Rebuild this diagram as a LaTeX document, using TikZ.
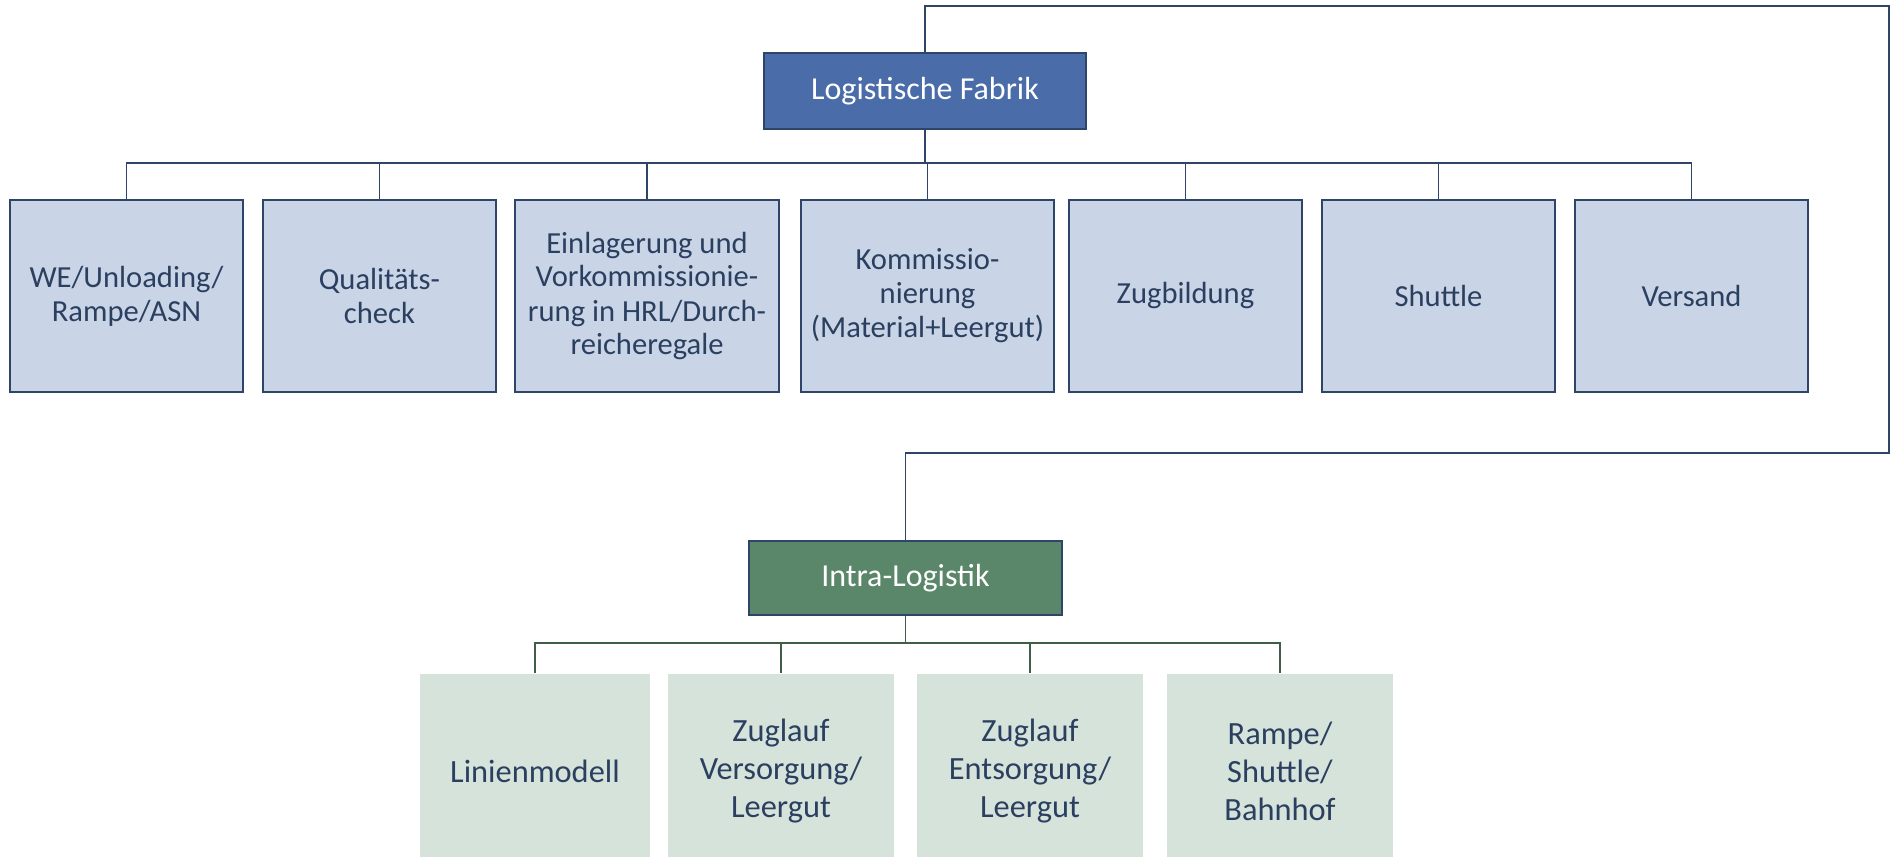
\documentclass[tikz,border=0pt]{standalone}
\usepackage{fontspec}
\setmainfont{Carlito}
\definecolor{navy}{HTML}{2E4468}
\definecolor{txtnavy}{HTML}{2B3F60}
\definecolor{topblue}{HTML}{4A6DAA}
\definecolor{childblue}{HTML}{C9D5E6}
\definecolor{intragreen}{HTML}{5A876A}
\definecolor{childgreen}{HTML}{D6E3DA}
\definecolor{linegreen}{HTML}{3E5E47}
\tikzset{every picture/.style={line width=0.8pt}}
\tikzset{
  headbox/.style={draw=navy, line width=1pt, text=white, inner sep=0pt, align=center, font=\fontsize{16}{19}\selectfont},
  topchild/.style={draw=navy, line width=1pt, fill=childblue, text=txtnavy, inner sep=0pt, align=center, minimum height=96pt, font=\fontsize{15.3}{17}\selectfont},
  lowchild/.style={fill=childgreen, text=txtnavy, inner sep=0pt, align=center, minimum height=97pt, minimum width=113pt, font=\fontsize{16.2}{19}\selectfont},
}

\begin{document}
\begin{tikzpicture}[x=0.5pt,y=0.5pt,yscale=-1,xscale=1]
				\useasboundingbox (0,0) rectangle (1897,857);
				\clip (0,0) rectangle (1897,857);
				
				% Head Nodes
				\node [headbox, fill=topblue, minimum width=161pt, minimum height=38pt] (lf) at (925,91) {Logistische Fabrik};
				\node [headbox, fill=intragreen, minimum width=156.5pt, minimum height=37pt] (il) at (905.5,578) {Intra-Logistik};
				
				% Text Node
				\node [topchild, minimum width=116.5pt] (we) at (126.5,296) {WE/Unloading/\\Rampe/ASN};
				% Text Node
				\node [topchild, minimum width=116.5pt] (qc) at (379.5,296) {Qualitäts-\\check};
				% Text Node
				\node [topchild, minimum width=132pt] (ein) at (647,296) {Einlagerung und\\Vorkommissionie-\\rung in HRL/Durch-\\reicheregale};
				% Text Node
				\node [topchild, minimum width=126.5pt] (kom) at (927.5,296) {Kommissio-\\nierung\\(Material+Leergut)};
				% Text Node
				\node [topchild, minimum width=116.5pt] (zug) at (1185.5,296) {Zugbildung};
				% Text Node
				\node [topchild, minimum width=116.5pt] (shu) at (1438.5,296) {Shuttle};
				% Text Node
				\node [topchild, minimum width=116.5pt] (ver) at (1691.5,296) {Versand};
				
				% Text Node
				\node [lowchild, minimum width=115pt] (lin) at (535,771) {Linienmodell};
				% Text Node
				\node [lowchild] (zv) at (781,771) {Zuglauf\\Versorgung/\\Leergut};
				% Text Node
				\node [lowchild] (ze) at (1030,771) {Zuglauf\\Entsorgung/\\Leergut};
				% Text Node
				\node [lowchild] (rsb) at (1280,771) {Rampe/\\Shuttle/\\Bahnhof};
				
				%Bus Coordinates
				\coordinate (topbus) at (0,163);
				\coordinate (lowbus) at (0,643);
				\coordinate (loopA) at (1889,6);
				\coordinate (loopB) at (1889,453);
				
				%Straight Lines
				\draw [navy] (lf.south) |- (we.north |- topbus) -- (we.north);
				\draw [navy] (lf.south) |- (qc.north |- topbus) -- (qc.north);
				\draw [navy] (lf.south) |- (ein.north |- topbus) -- (ein.north);
				\draw [navy] (lf.south) |- (kom.north |- topbus) -- (kom.north);
				\draw [navy] (lf.south) |- (zug.north |- topbus) -- (zug.north);
				\draw [navy] (lf.south) |- (shu.north |- topbus) -- (shu.north);
				\draw [navy] (lf.south) |- (ver.north |- topbus) -- (ver.north);
				%Loop Line
				\draw [navy] (lf.north) |- (loopA) -- (loopB) -| (il.north);
				%Straight Lines
				\draw [linegreen] (il.south) |- (lin.north |- lowbus) -- (lin.north);
				\draw [linegreen] (il.south) |- (zv.north |- lowbus) -- (zv.north);
				\draw [linegreen] (il.south) |- (ze.north |- lowbus) -- (ze.north);
				\draw [linegreen] (il.south) |- (rsb.north |- lowbus) -- (rsb.north);
				
\end{tikzpicture}
\end{document}
